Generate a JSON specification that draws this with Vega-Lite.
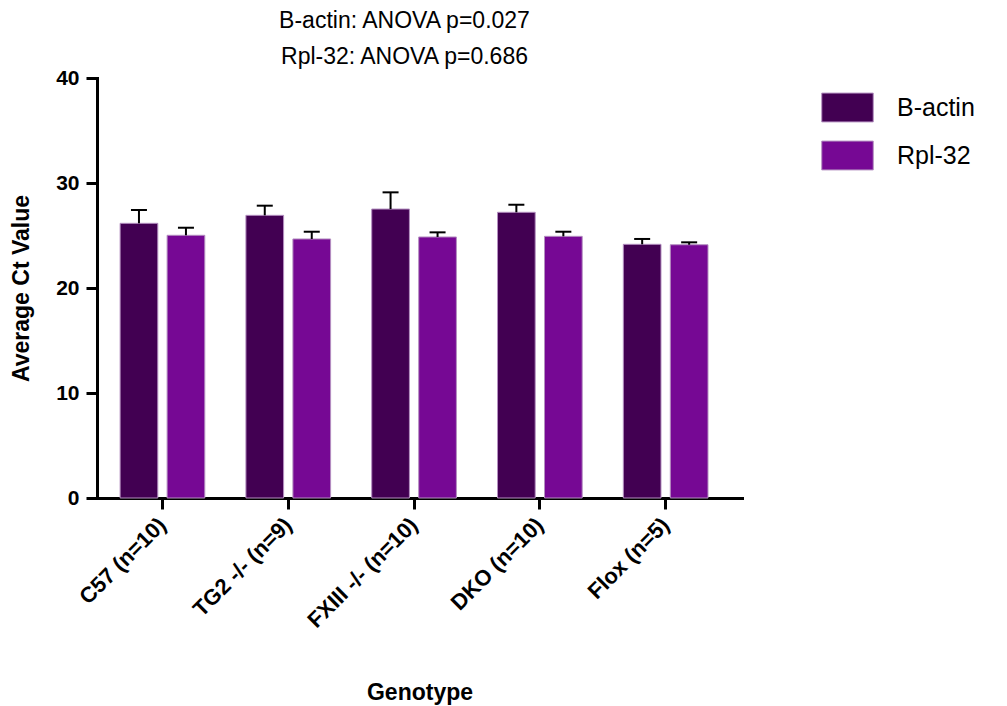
{
  "$schema": "https://vega.github.io/schema/vega-lite/v6.json",
  "width": 645,
  "height": 420,
  "autosize": "none",
  "padding": {"left": 97, "top": 78, "right": 265, "bottom": 208},
  "background": "white",
  "config": {"view": {"stroke": null}, "font": "Liberation Sans"},
  "title": {
    "text": ["B-actin: ANOVA p=0.027", "Rpl-32: ANOVA p=0.686"],
    "fontSize": 23,
    "fontWeight": "normal",
    "font": "Liberation Sans",
    "lineHeight": 36,
    "anchor": "middle",
    "dx": -15,
    "offset": -2,
    "color": "black"
  },
  "data": {
    "values": [
      {"genotype": "C57 (n=10)", "gene": "B-actin", "mean": 26.16, "upper": 27.43},
      {"genotype": "C57 (n=10)", "gene": "Rpl-32", "mean": 25.02, "upper": 25.74},
      {"genotype": "TG2 -/- (n=9)", "gene": "B-actin", "mean": 26.92, "upper": 27.84},
      {"genotype": "TG2 -/- (n=9)", "gene": "Rpl-32", "mean": 24.67, "upper": 25.36},
      {"genotype": "FXIII -/- (n=10)", "gene": "B-actin", "mean": 27.52, "upper": 29.11},
      {"genotype": "FXIII -/- (n=10)", "gene": "Rpl-32", "mean": 24.86, "upper": 25.30},
      {"genotype": "DKO (n=10)", "gene": "B-actin", "mean": 27.21, "upper": 27.93},
      {"genotype": "DKO (n=10)", "gene": "Rpl-32", "mean": 24.92, "upper": 25.36},
      {"genotype": "Flox (n=5)", "gene": "B-actin", "mean": 24.16, "upper": 24.67},
      {"genotype": "Flox (n=5)", "gene": "Rpl-32", "mean": 24.12, "upper": 24.35}
    ]
  },
  "encoding": {
    "x": {
      "field": "genotype",
      "type": "nominal",
      "sort": null,
      "scale": {"paddingInner": 0, "paddingOuter": 0.0636, "align": 0.16},
      "axis": {
        "labelAngle": -45,
        "labelAlign": "right",
        "labelBaseline": "middle",
        "labelFontSize": 22,
        "labelFontWeight": "bold",
        "labelColor": "black",
        "labelPadding": 12,
        "tickSize": 11,
        "tickWidth": 3,
        "tickColor": "black",
        "domainWidth": 3,
        "domainColor": "black",
        "domainCap": "square",
        "title": "Genotype",
        "titleFontSize": 23,
        "titleFontWeight": "bold",
        "titleColor": "black",
        "titlePadding": 50
      }
    },
    "xOffset": {
      "field": "gene",
      "type": "nominal",
      "sort": ["B-actin", "Rpl-32"],
      "scale": {"paddingInner": 0.198, "paddingOuter": 0.4375}
    }
  },
  "layer": [
    {
      "mark": {"type": "bar", "stroke": "#b48fc0", "strokeWidth": 1},
      "encoding": {
        "y": {
          "field": "mean",
          "type": "quantitative",
          "scale": {"domain": [0, 40], "nice": false},
          "axis": {
            "values": [0, 10, 20, 30, 40],
            "grid": false,
            "labelFontSize": 21,
            "labelFontWeight": "bold",
            "labelColor": "black",
            "labelPadding": 7,
            "tickSize": 11,
            "tickWidth": 3,
            "tickColor": "black",
            "domainWidth": 3,
            "domainColor": "black",
            "domainCap": "square",
            "title": "Average Ct Value",
            "titleFontSize": 23,
            "titleFontWeight": "bold",
            "titleColor": "black",
            "titlePadding": 22
          }
        },
        "color": {
          "field": "gene",
          "type": "nominal",
          "scale": {"domain": ["B-actin", "Rpl-32"], "range": ["#420052", "#760894"]},
          "legend": {
            "orient": "none",
            "legendX": 724,
            "legendY": 3,
            "title": null,
            "symbolType": "M-1,-0.56H1V0.56H-1Z",
            "symbolSize": 2650,
            "symbolStrokeColor": "#b48fc0",
            "symbolStrokeWidth": 1,
            "symbolOpacity": 1,
            "labelFontSize": 25,
            "labelColor": "black",
            "labelOffset": 23,
            "rowPadding": 5,
            "padding": 0
          }
        }
      }
    },
    {
      "mark": {"type": "rule", "color": "black", "strokeWidth": 2},
      "encoding": {
        "y": {"field": "mean", "type": "quantitative"},
        "y2": {"field": "upper"}
      }
    },
    {
      "mark": {"type": "tick", "color": "black", "thickness": 2, "size": 16, "opacity": 1},
      "encoding": {
        "y": {"field": "upper", "type": "quantitative"}
      }
    }
  ]
}
